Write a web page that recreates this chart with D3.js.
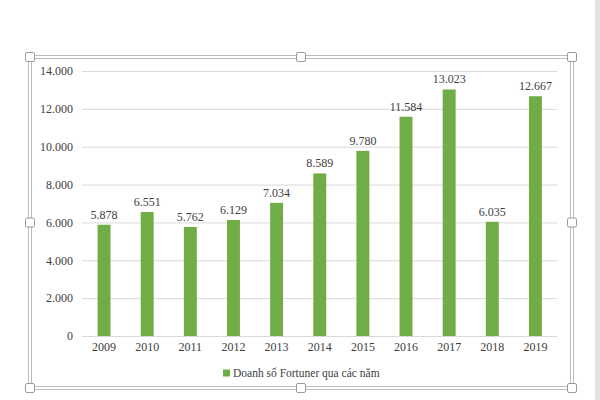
<!DOCTYPE html>
<html><head><meta charset="utf-8">
<script src="https://cdn.jsdelivr.net/npm/d3@7"></script>
<style>body{margin:0;background:#fff}svg{display:block}</style>
</head><body>
<script>
const years = ["2009","2010","2011","2012","2013","2014","2015","2016","2017","2018","2019"];
const sales = [5878,6551,5762,6129,7034,8589,9780,11584,13023,6035,12667];
const yTicks = [0,2000,4000,6000,8000,10000,12000,14000];
const seriesName = "Doanh số Fortuner qua các năm";

const W=600,H=400;
const svg=d3.select("body").append("svg").attr("width",W).attr("height",H);
const font="'Liberation Serif','Times New Roman',serif";
const fmt = v => d3.format(",")(v).replace(/,/g,".");

// selection frame
const fx0=30,fx1=572,fy0=57,fy1=388;
svg.append("rect").attr("x",fx0-1.5).attr("y",fy0-1.5).attr("width",fx1-fx0+3).attr("height",fy1-fy0+3).attr("fill","none").attr("stroke","#bdbdbd").attr("stroke-width",1);
svg.append("rect").attr("x",fx0+1.5).attr("y",fy0+1.5).attr("width",fx1-fx0-3).attr("height",fy1-fy0-3).attr("fill","none").attr("stroke","#bdbdbd").attr("stroke-width",1);
const handles=[[fx0,fy0],[(fx0+fx1)/2,fy0],[fx1,fy0],[fx0,(fy0+fy1)/2],[fx1,(fy0+fy1)/2],[fx0,fy1],[(fx0+fx1)/2,fy1],[fx1,fy1]];
svg.selectAll("rect.h").data(handles).enter().append("rect").attr("class","h")
  .attr("x",d=>d[0]-4.5).attr("y",d=>d[1]-4.5).attr("width",9).attr("height",9).attr("rx",1.5)
  .attr("fill","#fff").attr("stroke","#9a9a9a");
// right gray strip
svg.append("rect").attr("x",595).attr("y",0).attr("width",5).attr("height",H).attr("fill","#e3e3e3");

const x=d3.scaleBand().domain(years).range([82.5,557]).paddingInner(0.7).paddingOuter(0.35);
const y=d3.scaleLinear().domain([0,14000]).range([336,71]);

const g=svg.append("g");
g.selectAll("line.grid").data(yTicks).enter().append("line")
  .attr("x1",82).attr("x2",557).attr("y1",d=>y(d)+0.5).attr("y2",d=>y(d)+0.5)
  .attr("stroke","#d9d9d9").attr("stroke-width",1);

const yAxis=d3.axisLeft(y).tickValues(yTicks).tickFormat(fmt).tickSize(0).tickPadding(0);
const ya=g.append("g").attr("transform","translate(73,0)").call(yAxis);
ya.select(".domain").remove();
ya.selectAll("text").attr("font-family",font).attr("font-size",12).attr("fill","#404040");

const xAxis=d3.axisBottom(x).tickSize(0).tickPadding(0);
const xa=g.append("g").attr("transform","translate(0,342)").call(xAxis);
xa.select(".domain").remove();
xa.selectAll("text").attr("font-family",font).attr("font-size",12).attr("fill","#404040").attr("dy","0.71em");

g.selectAll("rect.bar").data(sales).enter().append("rect").attr("class","bar")
  .attr("x",(d,i)=>x(years[i])).attr("width",x.bandwidth())
  .attr("y",d=>y(d)).attr("height",d=>y(0)-y(d)).attr("fill","#70ad47");

g.selectAll("text.lbl").data(sales).enter().append("text").attr("class","lbl")
  .attr("x",(d,i)=>x(years[i])+x.bandwidth()/2).attr("y",d=>y(d)-6)
  .attr("text-anchor","middle").attr("font-family",font).attr("font-size",12).attr("fill","#404040")
  .text(fmt);

// legend
const lg=svg.append("g").attr("transform","translate(223,373)");
lg.append("rect").attr("x",0).attr("y",-3.5).attr("width",7).attr("height",7).attr("fill","#70ad47");
lg.append("text").attr("x",10).attr("y",4).attr("font-family",font).attr("font-size",11.5).attr("fill","#404040").text(seriesName);
</script>
</body></html>
